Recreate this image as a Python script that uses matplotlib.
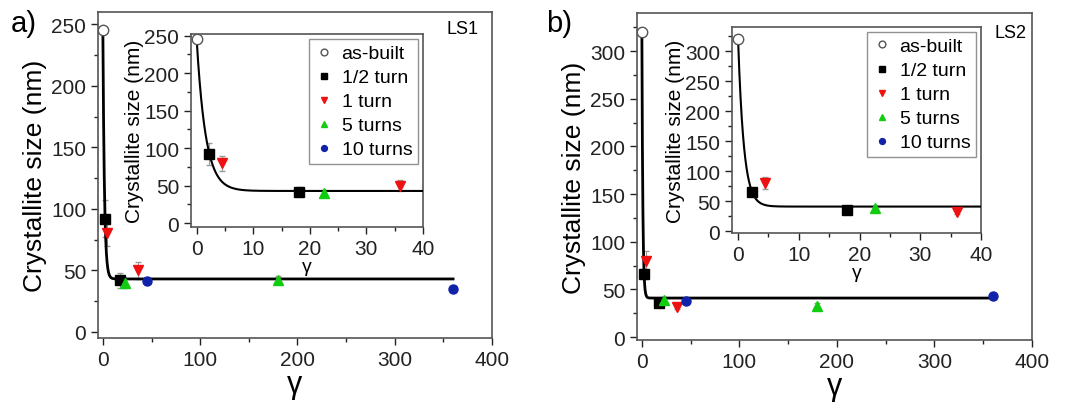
import numpy as np
import matplotlib.pyplot as plt
from matplotlib.ticker import MultipleLocator

plt.rcParams['font.family'] = ['Liberation Sans', 'DejaVu Sans']

# shear strain gamma for each processing state
gamma_asbuilt = [0]
gamma_half = [2.25, 18]
gamma_one = [4.5, 36]
gamma_five = [22.5, 180]
gamma_ten = [45, 360]

# LS1 crystallite sizes (nm) and error bars
ls1_asbuilt = [245]
ls1_half = [92, 42]
ls1_half_err = [15, 6]
ls1_one = [80, 50]
ls1_one_err = [10, 7]
ls1_five = [40, 42]
ls1_five_err = [4, 3]
ls1_ten = [41, 35]
ls1_ten_err = [2, 2]
ls1_fit = dict(y0=245, plateau=43, tau=1.6)

# LS2 crystallite sizes (nm) and error bars
ls2_asbuilt = [320]
ls2_half = [66, 36]
ls2_half_err = [5, 3]
ls2_one = [80, 32]
ls2_one_err = [10, 3]
ls2_five = [39, 33]
ls2_five_err = [3, 3]
ls2_ten = [38, 43]
ls2_ten_err = [2, 2]
ls2_fit = dict(y0=320, plateau=41, tau=0.95)

W, H = 1065, 406
fig = plt.figure(figsize=(W / 100, H / 100), dpi=100)


def box(l, r, t, b):
    return [l / W, (H - b) / H, (r - l) / W, (b - t) / H]


def fit_curve(p, xmax):
    x = np.linspace(0, xmax, 2000)
    return x, p['plateau'] + (p['y0'] - p['plateau']) * np.exp(-x / p['tau'])


def style_axes(ax, xmaj, xmin, ymaj, ymin, fs):
    ax.xaxis.set_major_locator(MultipleLocator(xmaj))
    ax.xaxis.set_minor_locator(MultipleLocator(xmin))
    ax.yaxis.set_major_locator(MultipleLocator(ymaj))
    ax.yaxis.set_minor_locator(MultipleLocator(ymin))
    ax.tick_params(which='both', direction='out', top=False, right=False,
                   labelsize=fs, colors='#222222', width=1)
    ax.tick_params(which='major', length=5)
    ax.tick_params(which='minor', length=3)
    for s in ax.spines.values():
        s.set_color('#555555')
        s.set_linewidth(1.2)


def draw_points(ax, d, ms):
    eb = dict(fmt='none', ecolor='#999999', elinewidth=0.8, capsize=2.5, zorder=2)
    ax.errorbar(gamma_half, d['half'], yerr=d['half_err'], **eb)
    ax.errorbar(gamma_one, d['one'], yerr=d['one_err'], **eb)
    ax.errorbar(gamma_five, d['five'], yerr=d['five_err'], **eb)
    ax.errorbar(gamma_ten, d['ten'], yerr=d['ten_err'], **eb)
    ax.plot(gamma_asbuilt, d['asbuilt'], 'o', mfc='white', mec='#555555', mew=1,
            ms=ms + 1, ls='none', label='as-built', zorder=4)
    ax.plot(gamma_half, d['half'], 's', color='black', ms=ms, ls='none',
            label='1/2 turn', zorder=4)
    ax.plot(gamma_one, d['one'], 'v', color='#ee1111', ms=ms + 1, ls='none',
            label='1 turn', zorder=4)
    ax.plot(gamma_five, d['five'], '^', color='#11cc11', ms=ms + 1, ls='none',
            label='5 turns', zorder=4)
    ax.plot(gamma_ten, d['ten'], 'o', color='#1122aa', ms=ms, ls='none',
            label='10 turns', zorder=4)


panels = [
    dict(main=box(98, 492, 13, 339), inset=box(191, 423, 35, 228),
         ylim=(-5, 260), iylim=(-5, 252), fit=ls1_fit, tag='a)', ls='LS1',
         tag_x=11, ls_x=463, ls_y=29,
         asbuilt=ls1_asbuilt, half=ls1_half, half_err=ls1_half_err,
         one=ls1_one, one_err=ls1_one_err, five=ls1_five, five_err=ls1_five_err,
         ten=ls1_ten, ten_err=ls1_ten_err),
    dict(main=box(637, 1032, 14, 341), inset=box(732, 981, 28, 234),
         ylim=(-3, 340), iylim=(-3, 340), fit=ls2_fit, tag='b)', ls='LS2',
         tag_x=546, ls_x=1010, ls_y=33,
         asbuilt=ls2_asbuilt, half=ls2_half, half_err=ls2_half_err,
         one=ls2_one, one_err=ls2_one_err, five=ls2_five, five_err=ls2_five_err,
         ten=ls2_ten, ten_err=ls2_ten_err),
]

for p in panels:
    ax = fig.add_axes(p['main'])
    x, y = fit_curve(p['fit'], 360)
    ax.plot(x, y, color='black', lw=2, zorder=3)
    draw_points(ax, p, 6.5)
    ax.set_xlim(-5, 400)
    ax.set_ylim(*p['ylim'])
    style_axes(ax, 100, 50, 50, 25, 15)
    ax.set_xlabel('γ', fontsize=22, labelpad=0)
    ax.set_ylabel('Crystallite size (nm)', fontsize=19, labelpad=3)

    ins = fig.add_axes(p['inset'])
    x, y = fit_curve(p['fit'], 40)
    ins.plot(x, y, color='black', lw=1.5, zorder=3)
    draw_points(ins, p, 6.5)
    ins.set_xlim(-1, 40)
    ins.set_ylim(*p['iylim'])
    style_axes(ins, 10, 5, 50, 25, 15)
    ins.set_xlabel('γ', fontsize=14, labelpad=0)
    ins.set_ylabel('Crystallite size (nm)', fontsize=15, labelpad=0)
    leg = ins.legend(loc='upper right', fontsize=14, frameon=True, fancybox=False,
                     markerscale=0.65, handletextpad=0.4, handlelength=1.0,
                     borderpad=0.3, labelspacing=0.33, borderaxespad=0.25)
    leg.get_frame().set_edgecolor('#777777')
    leg.get_frame().set_linewidth(1)

    fig.text(p['tag_x'] / W, 1 - 24 / H, p['tag'], fontsize=21, va='center', ha='left')
    fig.text(p['ls_x'] / W, 1 - p['ls_y'] / H, p['ls'], fontsize=13, va='center', ha='center')

fig.savefig('out.png', dpi=100)
